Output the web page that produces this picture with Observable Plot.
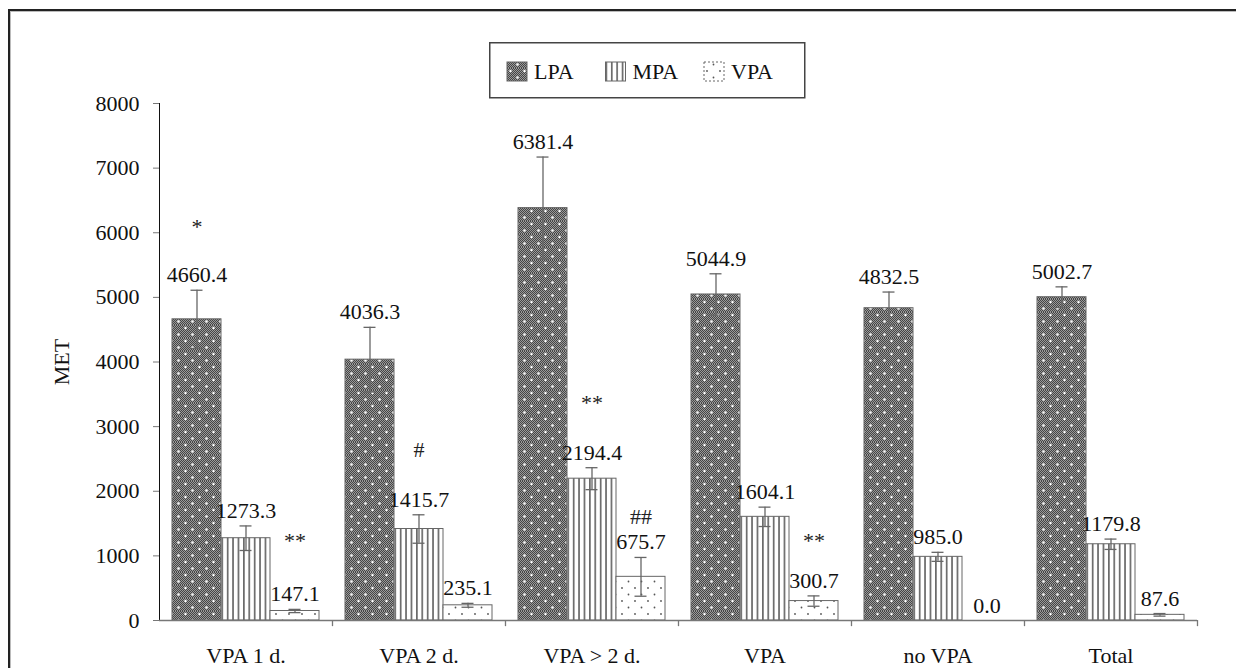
<!DOCTYPE html>
<html>
<head>
<meta charset="utf-8">
<script src="https://cdn.jsdelivr.net/npm/d3@7"></script>
<script src="https://cdn.jsdelivr.net/npm/@observablehq/plot@0.6"></script>
<style>
  body { margin: 0; background: #fff; }
  #wrap { position: relative; width: 1236px; height: 668px; overflow: hidden; font-family: "Liberation Serif", "Times New Roman", serif; color: #111; }
  #frame { position: absolute; left: 8px; top: 9px; width: 1400px; height: 900px; border-left: 2px solid #222; border-top: 2px solid #222; box-shadow: inset 1px 1px 0 #bbb; }
  #chart { position: absolute; left: 0; top: 0; }
  #legend { position: absolute; left: 489px; top: 42px; }
  #ytitle { position: absolute; left: 62px; top: 362px; transform: translate(-50%, -50%) rotate(-90deg); font-size: 22px; white-space: nowrap; }
  #chart svg g[aria-label^="y-axis"] line, #chart svg g[aria-label^="y-axis"] path { stroke: #777; }
</style>
</head>
<body>
<svg width="0" height="0" style="position:absolute">
  <defs>
    <pattern id="chk" patternUnits="userSpaceOnUse" width="2" height="2">
      <rect width="2" height="2" fill="#9a9a9a"></rect>
      <rect x="0" y="0" width="1" height="1" fill="#454545"></rect>
      <rect x="1" y="1" width="1" height="1" fill="#454545"></rect>
    </pattern>
    <pattern id="pLPA" patternUnits="userSpaceOnUse" width="14" height="13">
      <rect width="14" height="13" fill="url(#chk)"></rect>
      <circle cx="3.5" cy="3" r="1.2" fill="#fff"></circle>
      <circle cx="10.5" cy="9.5" r="1.2" fill="#fff"></circle>
    </pattern>
    <pattern id="pMPA" patternUnits="userSpaceOnUse" width="5.4" height="10">
      <rect width="5.4" height="10" fill="#fff"></rect>
      <rect x="0" y="0" width="1.7" height="10" fill="#6a6a6a"></rect>
    </pattern>
    <pattern id="pVPA" patternUnits="userSpaceOnUse" width="13" height="13">
      <rect width="13" height="13" fill="#fff"></rect>
      <circle cx="3" cy="3" r="0.9" fill="#555"></circle>
      <circle cx="9.5" cy="9.5" r="0.9" fill="#555"></circle>
    </pattern>
  </defs>
</svg>
<div id="wrap">
  <div id="frame"></div>
  <div id="chart"></div>
  <div id="legend"></div>
  <div id="ytitle">MET</div>
</div>
<script>
// ---- data ----
const groups = ["VPA 1 d.", "VPA 2 d.", "VPA > 2 d.", "VPA", "no VPA", "Total"];
const series = ["LPA", "MPA", "VPA"];
const lpa = [4660.4, 4036.3, 6381.4, 5044.9, 4832.5, 5002.7];
const mpa = [1273.3, 1415.7, 2194.4, 1604.1, 985.0, 1179.8];
const vpa = [147.1, 235.1, 675.7, 300.7, 0.0, 87.6];
const lpaErr = [450, 500, 790, 320, 250, 160];
const mpaErr = [190, 220, 170, 150, 70, 80];
const vpaErr = [25, 30, 300, 80, 0, 20];
const yTicks = [0, 1000, 2000, 3000, 4000, 5000, 6000, 7000, 8000];
const sigGroup = ["VPA 1 d.", "VPA 1 d.", "VPA 2 d.", "VPA > 2 d.", "VPA > 2 d.", "VPA"];
const sigSeries = ["LPA", "VPA", "MPA", "MPA", "VPA", "VPA"];
const sigText = ["*", "**", "#", "**", "##", "**"];
const sigLevel = [6090, 1233, 2635, 3374, 1602, 1233];

// ---- tables ----
const values = {LPA: lpa, MPA: mpa, VPA: vpa};
const errors = {LPA: lpaErr, MPA: mpaErr, VPA: vpaErr};
const fills = {LPA: "url(#pLPA)", MPA: "url(#pMPA)", VPA: "url(#pVPA)"};
const rows = groups.flatMap((g, i) => series.map(s => ({group: g, series: s, value: values[s][i], err: errors[s][i]})));
const sig = sigText.map((t, i) => ({group: sigGroup[i], series: sigSeries[i], text: t, y: sigLevel[i]}));

const W = 1236, H = 668, mL = 159, mR = 39, mT = 103, mB = 48;
const padOuter = 0.265;
const facetW = (W - mL - mR) / groups.length;
const step = facetW / (series.length + 2 * padOuter);
const lastCenterToEdge = step * padOuter + step / 2;

const err = rows.filter(d => d.err > 0);

const chart = Plot.plot({
  width: W, height: H,
  marginLeft: mL, marginRight: mR, marginTop: mT, marginBottom: mB,
  style: {fontFamily: "Liberation Serif, 'Times New Roman', serif", fontSize: "22px", color: "#111", background: "transparent"},
  fx: {domain: groups, padding: 0, label: null, tickSize: 0, tickPadding: 27, axis: "bottom"},
  x: {domain: series, paddingInner: 0, paddingOuter: padOuter, axis: null},
  y: {domain: [0, 8000], ticks: yTicks, tickSize: 6, tickPadding: 14, tickFormat: d => String(d), label: null, line: true},
  marks: [
    ...series.map(s => Plot.barY(rows.filter(d => d.series === s), {fx: "group", x: "series", y: "value", fill: fills[s], stroke: "#666", strokeWidth: 1})),
    Plot.ruleY([0], {stroke: "#777", strokeWidth: 1.3}),
    Plot.ruleX(groups, {fx: d => d, x: () => "VPA", dx: lastCenterToEdge, y1: 0, y2: -95, stroke: "#777", strokeWidth: 1.3}),
    Plot.ruleX(err, {fx: "group", x: "series", y1: d => d.value - d.err, y2: d => d.value + d.err, stroke: "#666", strokeWidth: 1.3}),
    Plot.tickY(err, {fx: "group", x: "series", y: d => d.value + d.err, stroke: "#666", strokeWidth: 1.3, insetLeft: step / 2 - 6, insetRight: step / 2 - 6}),
    Plot.tickY(err, {fx: "group", x: "series", y: d => d.value - d.err, stroke: "#666", strokeWidth: 1.3, insetLeft: step / 2 - 6, insetRight: step / 2 - 6}),
    Plot.text(rows, {fx: "group", x: "series", y: d => d.value + d.err, dy: -15, text: d => d.value.toFixed(1), fontSize: 22, fill: "#111"}),
    Plot.text(sig, {fx: "group", x: "series", y: "y", text: "text", fontSize: 22, fill: "#222"})
  ]
});
document.getElementById("chart").appendChild(chart);

// ---- legend ----
const lg = d3.select("#legend").append("svg").attr("width", 318).attr("height", 58)
  .style("font-family", "Liberation Serif, 'Times New Roman', serif");
lg.append("rect").attr("x", 0.75).attr("y", 0.75).attr("width", 315).attr("height", 55)
  .attr("fill", "#fff").attr("stroke", "#444").attr("stroke-width", 1.5);
const item = lg.selectAll("g.item").data(series).join("g").attr("class", "item")
  .attr("transform", (d, i) => `translate(${18 + i * 98.5},0)`);
item.append("rect").attr("x", 0).attr("y", 20).attr("width", 20).attr("height", 19)
  .attr("fill", d => fills[d]).attr("stroke", "#666").attr("stroke-width", 1)
  .attr("stroke-dasharray", d => d === "VPA" ? "2,2" : null);
item.append("text").attr("x", 27).attr("y", 37).attr("font-size", 22).attr("fill", "#111").text(d => d);
</script>
</body>
</html>
